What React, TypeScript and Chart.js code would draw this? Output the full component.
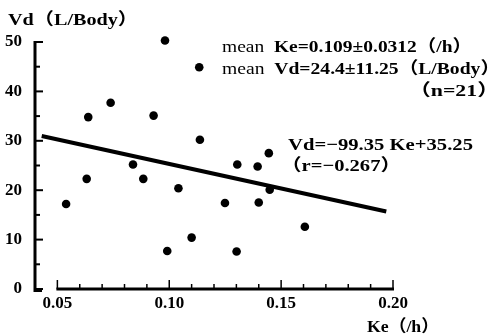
import React, { useEffect, useRef } from "react";
import { Chart, registerables } from "chart.js";

Chart.register(...registerables);

// Data
const keValues = [0.0539, 0.0631, 0.0638, 0.0738, 0.0838, 0.0884, 0.093, 0.0981, 0.0991, 0.1041, 0.11, 0.1134, 0.1137, 0.1249, 0.1301, 0.1304, 0.1395, 0.14, 0.1445, 0.1449, 0.1606];
const vdValues = [17.2, 22.3, 34.8, 37.7, 25.2, 22.3, 35.1, 50.3, 7.7, 20.4, 10.4, 44.9, 30.2, 17.4, 7.6, 25.2, 24.8, 17.5, 27.5, 20.1, 12.6];

// Regression line Vd = -99.35 Ke + 35.25
const regSlope = -99.35;
const regIntercept = 35.25;
const regKeRange = [0.043, 0.197];

const xTickValues = [0.05, 0.06, 0.07, 0.08, 0.09, 0.1, 0.11, 0.12, 0.13, 0.14, 0.15, 0.16, 0.17, 0.18, 0.19, 0.2];
const xTickLabels = ["0.05", "", "", "", "", "0.10", "", "", "", "", "0.15", "", "", "", "", "0.20"];
const yTickValues = [0, 5, 10, 15, 20, 25, 30, 35, 40, 45, 50];
const yTickLabels = ["0", "", "10", "", "20", "", "30", "", "40", "", "50"];

const SERIF = "'Liberation Serif', 'Noto Sans CJK JP', serif";

type Seg = { t: string; bold: boolean };

function drawSegs(
  ctx: CanvasRenderingContext2D,
  segs: Seg[],
  x: number,
  y: number,
  size: number,
  width: number,
  align: "left" | "right" = "left"
) {
  let total = 0;
  for (const s of segs) {
    ctx.font = `${s.bold ? "bold " : ""}${size}px ${SERIF}`;
    total += ctx.measureText(s.t).width;
  }
  const f = width / total;
  const startX = align === "left" ? x : x - width;
  ctx.save();
  ctx.translate(startX, y);
  ctx.scale(f, 1);
  ctx.textAlign = "left";
  ctx.textBaseline = "alphabetic";
  let cx = 0;
  for (const s of segs) {
    ctx.font = `${s.bold ? "bold " : ""}${size}px ${SERIF}`;
    ctx.fillText(s.t, cx, 0);
    cx += ctx.measureText(s.t).width;
  }
  ctx.restore();
}

const axesPlugin = {
  id: "customAxes",
  afterDraw(chart: any) {
    const ctx: CanvasRenderingContext2D = chart.ctx;
    const xs = chart.scales.x;
    const ys = chart.scales.y;
    ctx.save();
    ctx.strokeStyle = "#000";
    ctx.fillStyle = "#000";
    ctx.lineCap = "butt";
    // Y axis
    const ax = xs.getPixelForValue(xs.min);
    const y0 = ys.getPixelForValue(0);
    const y50 = ys.getPixelForValue(50);
    ctx.lineWidth = 3;
    ctx.beginPath();
    ctx.moveTo(ax, y50 - 1);
    ctx.lineTo(ax, y0 + 1.5);
    ctx.lineTo(ax + 7, y0 + 1.5);
    ctx.stroke();
    ctx.lineWidth = 2;
    yTickValues.forEach((v) => {
      const py = ys.getPixelForValue(v);
      const len = v % 10 === 0 ? 8 : 5;
      ctx.beginPath();
      ctx.moveTo(ax, py);
      ctx.lineTo(ax + len, py);
      ctx.stroke();
    });
    // X axis
    const xl = xs.getPixelForValue(xTickValues[0]);
    const xr = xs.getPixelForValue(xTickValues[xTickValues.length - 1]);
    ctx.lineWidth = 3;
    ctx.beginPath();
    ctx.moveTo(xl - 1, y0);
    ctx.lineTo(xr + 1, y0);
    ctx.stroke();
    ctx.lineWidth = 1.5;
    xTickValues.forEach((v, i) => {
      const px = xs.getPixelForValue(v);
      const len = xTickLabels[i] ? 9 : 5;
      ctx.beginPath();
      ctx.moveTo(px, y0);
      ctx.lineTo(px, y0 - len);
      ctx.stroke();
    });
    // Texts
    drawSegs(ctx, [{ t: "Vd（L/Body）", bold: true }], 8, 25, 17, 130);
    drawSegs(ctx, [{ t: "Ke（/h）", bold: true }], 367, 332, 17, 72);
    drawSegs(ctx, [{ t: "mean", bold: false }, { t: "  Ke=0.109±0.0312（/h）", bold: true }], 222, 52, 17, 250);
    drawSegs(ctx, [{ t: "mean", bold: false }, { t: "  Vd=24.4±11.25（L/Body）", bold: true }], 222, 74, 17, 278);
    drawSegs(ctx, [{ t: "（n=21）", bold: true }], 499, 96, 17, 90, "right");
    drawSegs(ctx, [{ t: "Vd=−99.35 Ke+35.25", bold: true }], 288, 150, 17, 185);
    drawSegs(ctx, [{ t: "（r=−0.267）", bold: true }], 281, 171, 17, 120);
    ctx.restore();
  },
};

export default function App() {
  const ref = useRef<HTMLCanvasElement | null>(null);
  useEffect(() => {
    if (!ref.current) return;
    const points = keValues.map((k, i) => ({ x: k, y: vdValues[i] }));
    const line = regKeRange.map((k) => ({ x: k, y: regSlope * k + regIntercept }));
    const chart = new Chart(ref.current, {
      type: "scatter",
      data: {
        datasets: [
          {
            type: "line",
            data: line,
            borderColor: "#000",
            borderWidth: 4,
            pointRadius: 0,
            fill: false,
          } as any,
          {
            data: points,
            backgroundColor: "#000",
            borderColor: "#000",
            pointRadius: 4.3,
            borderWidth: 0,
            clip: false,
          } as any,
        ],
      },
      options: {
        animation: false,
        responsive: false,
        maintainAspectRatio: false,
        layout: { padding: { left: 0, top: 42, right: 101, bottom: 0 } },
        plugins: { legend: { display: false }, tooltip: { enabled: false }, title: { display: false } },
        scales: {
          x: {
            type: "linear",
            min: 0.04,
            max: 0.2,
            grid: { display: false },
            border: { display: false },
            afterBuildTicks: (s: any) => {
              s.ticks = xTickValues.map((v) => ({ value: v }));
            },
            afterFit: (s: any) => {
              s.height = 47;
            },
            ticks: {
              autoSkip: false,
              maxRotation: 0,
              padding: -4,
              color: "#000",
              font: { family: SERIF, size: 17, weight: "bold" },
              callback: (_v: any, i: number) => xTickLabels[i],
            },
          },
          y: {
            type: "linear",
            min: 0,
            max: 50,
            grid: { display: false },
            border: { display: false },
            afterBuildTicks: (s: any) => {
              s.ticks = yTickValues.map((v) => ({ value: v }));
            },
            afterFit: (s: any) => {
              s.width = 35;
            },
            ticks: {
              autoSkip: false,
              padding: 5,
              color: "#000",
              font: { family: SERIF, size: 17, weight: "bold" },
              callback: (_v: any, i: number) => yTickLabels[i],
            },
          },
        },
      },
      plugins: [axesPlugin],
    });
    return () => chart.destroy();
  }, []);
  return (
    <div style={{ position: "fixed", left: 0, top: 0, width: 494, height: 336, background: "#fff" }}>
      <canvas ref={ref} width={494} height={336} style={{ width: 494, height: 336 }} />
    </div>
  );
}
